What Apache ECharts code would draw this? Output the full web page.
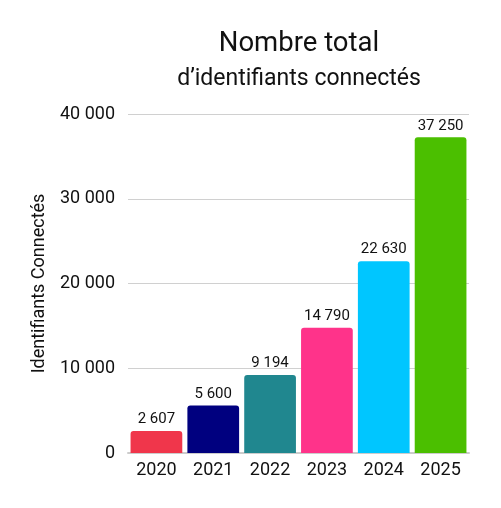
<!DOCTYPE html>
<html>
<head>
<meta charset="utf-8">
<script src="https://cdn.jsdelivr.net/npm/echarts@6/dist/echarts.min.js"></script>
<style>html,body{margin:0;padding:0;background:#fff;}#c{width:501px;height:508px;}</style>
</head>
<body>
<div id="c"></div>
<script>
const categories = ['2020', '2021', '2022', '2023', '2024', '2025'];
const values = [2607, 5600, 9194, 14790, 22630, 37250];
const colors = ['#F0364B', '#00007F', '#20878F', '#FF338A', '#00C6FF', '#4BBF00'];
const yTicks = [0, 10000, 20000, 30000, 40000];

const fmt = v => String(v).replace(/\B(?=(\d{3})+(?!\d))/g, ' ');
const font = 'Roboto';

const chart = echarts.init(document.getElementById('c'));
chart.setOption({
  animation: false,
  textStyle: { fontFamily: font },
  title: {
    text: 'Nombre total',
    subtext: 'd\u2019identifiants connectés',
    left: 294, top: 25, textAlign: 'center', itemGap: 10,
    textStyle: { fontFamily: font, fontSize: 27.5, fontWeight: 'normal', color: '#111' },
    subtextStyle: { fontFamily: font, fontSize: 23, color: '#111' }
  },
  grid: { left: 128, right: 32, top: 114, bottom: 55 },
  xAxis: {
    type: 'category',
    data: categories,
    axisTick: { show: false },
    axisLine: { lineStyle: { color: '#cccccc', width: 2 } },
    axisLabel: { fontFamily: font, fontSize: 18, color: '#111', margin: 8 }
  },
  yAxis: {
    type: 'value',
    min: yTicks[0], max: yTicks[yTicks.length - 1], interval: 10000,
    name: 'Identifiants Connectés',
    nameLocation: 'middle', nameGap: 80, nameRotate: 90,
    nameTextStyle: { fontFamily: font, fontSize: 18, color: '#111' },
    axisLine: { show: false }, axisTick: { show: false },
    axisLabel: { fontFamily: font, fontSize: 18, color: '#111', margin: 13, formatter: fmt },
    splitLine: { lineStyle: { color: '#d0d0d0' } }
  },
  series: [{
    type: 'bar',
    data: values.map((v, i) => ({ value: v, itemStyle: { color: colors[i] } })),
    barCategoryGap: '9%',
    itemStyle: { borderRadius: [3, 3, 0, 0] },
    label: { show: true, position: 'top', distance: 4, fontFamily: font, fontSize: 15, color: '#111', formatter: p => fmt(p.value) }
  }]
});
</script>
</body>
</html>
